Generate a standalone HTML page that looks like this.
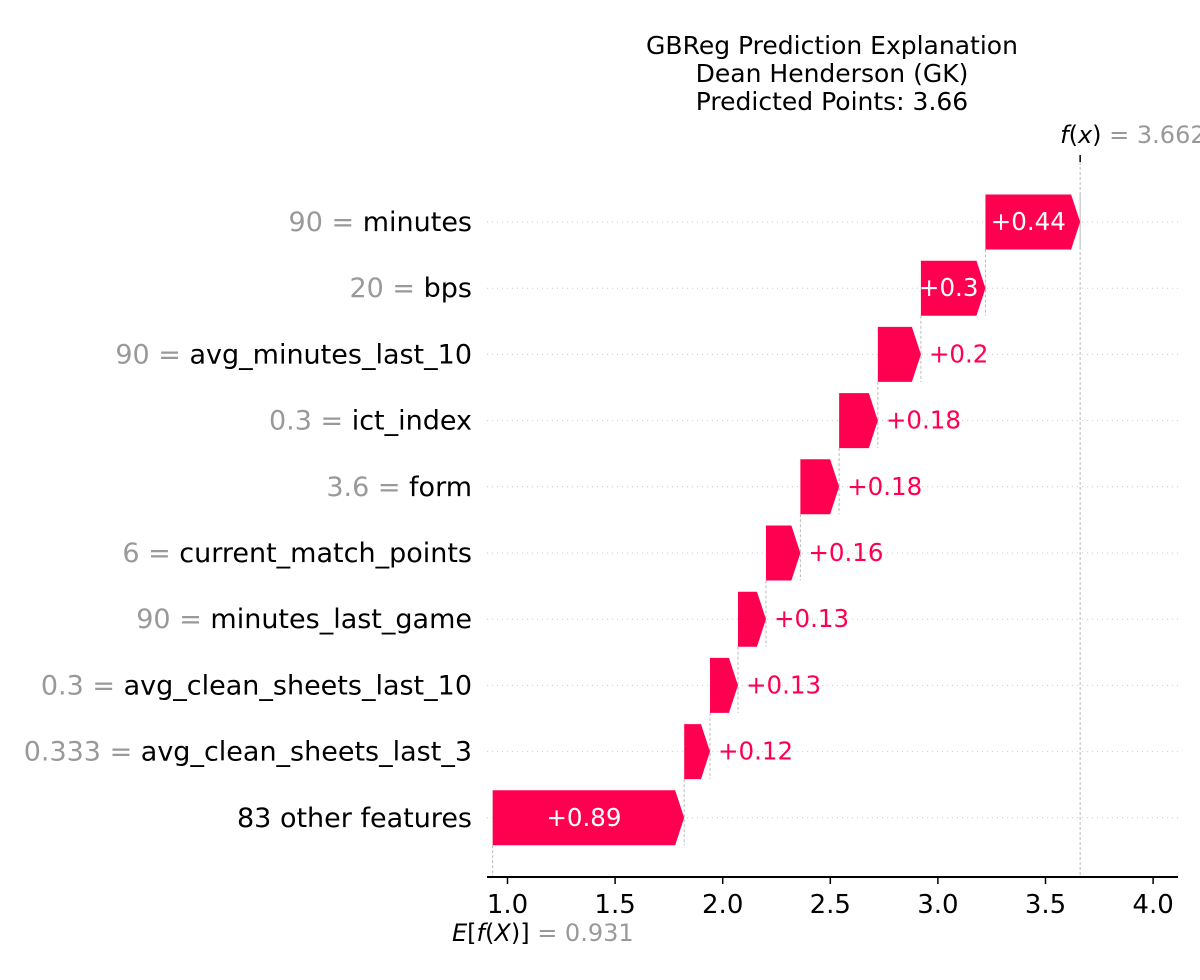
<!DOCTYPE html>
<html><head><meta charset="utf-8"><style>
body{margin:0;background:#fff;}
svg text{font-family:"DejaVu Sans","Liberation Sans",sans-serif;}
</style></head><body>
<svg id="c" width="1200" height="975" xmlns="http://www.w3.org/2000/svg">
<g id="title" font-size="25" text-anchor="middle" fill="#000">
<text x="832" y="54">GBReg Prediction Explanation</text>
<text x="832" y="82">Dean Henderson (GK)</text>
<text x="832" y="110">Predicted Points: 3.66</text>
</g>
<g id="grid"></g><g id="vlines"></g><g id="bars"></g><g id="ylabels"></g><g id="axis"></g>
</svg>
<script>
const features=["minutes","bps","avg_minutes_last_10","ict_index","form","current_match_points","minutes_last_game","avg_clean_sheets_last_10","avg_clean_sheets_last_3","83 other features"];
const featureValues=["90","20","90","0.3","3.6","6","90","0.3","0.333",""];
const shapValues=[0.44,0.3,0.2,0.18,0.18,0.16,0.13,0.13,0.12,0.89];
const valueLabels=["+0.44","+0.3","+0.2","+0.18","+0.18","+0.16","+0.13","+0.13","+0.12","+0.89"];
const baseValue=0.931;
const fxLabel="3.662";
const ticks=[1.0,1.5,2.0,2.5,3.0,3.5,4.0];
const NS="http://www.w3.org/2000/svg";
const X=v=>507.5+(v-1)*215.2;
const Y=i=>222+i*66.2;
const H=55;
function mk(t,a,p){const e=document.createElementNS(NS,t);for(const k in a)e.setAttribute(k,a[k]);p.appendChild(e);return e;}
const grid=document.getElementById('grid'),vl=document.getElementById('vlines'),bars=document.getElementById('bars'),yl=document.getElementById('ylabels'),ax=document.getElementById('axis');
const n=features.length;
let ends=[];let cur=baseValue;
for(let i=n-1;i>=0;i--){const s=cur;cur+=shapValues[i];ends[i]=[s,cur];}
const fx=cur;
for(let i=0;i<n;i++){
 const y=Y(i);
 const g=mk('line',{x1:487,x2:1180,y1:y,y2:y,stroke:'#ccc','stroke-dasharray':'1,4','stroke-width':1},grid);
 
 
 const [s,e]=ends[i];const x0=X(s),x1=X(e);const hl=Math.min(9,(x1-x0)*0.35);
 const p=mk('polygon',{points:`${x0},${y-H/2} ${x1-hl},${y-H/2} ${x1},${y} ${x1-hl},${y+H/2} ${x0},${y+H/2}`,fill:'#ff0051'},bars);
 
 
 const top=i>0?Y(i-1)+H/2:y-H/2;
 const l=mk('line',{x1:x1,x2:x1,y1:top,y2:y+H/2,stroke:'#bbb','stroke-dasharray':'3,2','stroke-width':1},vl);
 
 
 const inside=(x1-x0)>62;
 const t=mk('text',{x:inside?(x0+x1-hl)/2:x1+8,y:y+8,'font-size':24.5,fill:inside?'#fff':'#ff0051','text-anchor':inside?'middle':'start'},bars);
 t.textContent=valueLabels[i];
 
 
 const lt=mk('text',{x:472,y:y+9,'font-size':27,'text-anchor':'end',fill:'#000'},yl);
 
 
 if(featureValues[i]){const a=document.createElementNS(NS,'tspan');a.setAttribute('fill','#999');a.textContent=featureValues[i]+' = ';lt.appendChild(a);}
 const b=document.createElementNS(NS,'tspan');b.textContent=features[i];lt.appendChild(b);
}
const fl=mk('line',{x1:X(fx),x2:X(fx),y1:157,y2:877,stroke:'#bbb','stroke-dasharray':'3,2','stroke-width':1},vl);


mk('line',{x1:X(fx),x2:X(fx),y1:155,y2:162,stroke:'#000','stroke-width':1.5},ax);
const ft=mk('text',{x:X(fx)-20,y:143,'font-size':24},ax);
ft.innerHTML='<tspan font-style="italic">f</tspan>(<tspan font-style="italic">x</tspan>) <tspan fill="#999">= '+fxLabel+'</tspan>';


const el=mk('line',{x1:X(baseValue),x2:X(baseValue),y1:Y(n-1)+H/2,y2:877,stroke:'#bbb','stroke-dasharray':'3,2','stroke-width':1},vl);


const et=mk('text',{x:452,y:941,'font-size':24},ax);
et.innerHTML='<tspan font-style="italic">E</tspan>[<tspan font-style="italic">f</tspan>(<tspan font-style="italic">X</tspan>)] <tspan fill="#999">= '+baseValue+'</tspan>';


const sp=mk('line',{x1:487,x2:1178,y1:877,y2:877,stroke:'#000','stroke-width':2},ax);


ticks.forEach(v=>{
 mk('line',{x1:X(v),x2:X(v),y1:877,y2:884,stroke:'#000','stroke-width':1.5},ax);
 const t=mk('text',{x:X(v),y:913,'font-size':26,'text-anchor':'middle'},ax);
 t.textContent=v.toFixed(1);
 
 
});
</script>
</body></html>
